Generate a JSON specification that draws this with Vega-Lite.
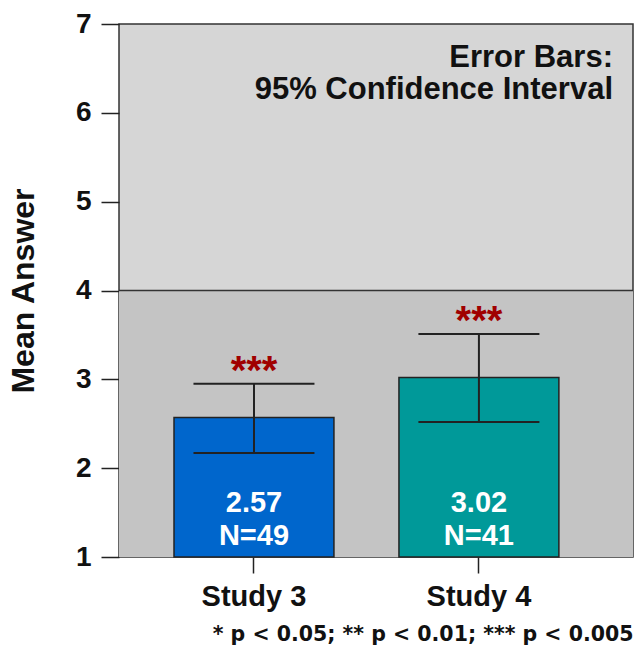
{
  "$schema": "https://vega.github.io/schema/vega-lite/v6.json",
  "width": 514,
  "height": 533,
  "autosize": {"type": "none"},
  "padding": {"left": 119, "top": 24, "right": 4, "bottom": 105},
  "background": "white",
  "config": {
    "font": "Liberation Sans",
    "view": {"stroke": "#333333", "strokeWidth": 1.5, "fill": "#d6d6d6"}
  },
  "title": {
    "text": ["Error Bars:", "95% Confidence Interval"],
    "orient": "top",
    "anchor": "end",
    "frame": "group",
    "align": "right",
    "font": "Liberation Sans",
    "fontSize": 31,
    "fontWeight": "bold",
    "color": "#111111",
    "lineHeight": 32,
    "offset": -96,
    "dx": -20
  },
  "data": {
    "values": [
      {"study": "Study 3", "mean": 2.57, "n": 49, "lo": 2.17, "hi": 2.95, "sig": "***"},
      {"study": "Study 4", "mean": 3.02, "n": 41, "lo": 2.52, "hi": 3.51, "sig": "***"}
    ]
  },
  "encoding": {
    "x": {
      "field": "study",
      "type": "nominal",
      "scale": {"paddingInner": 0.289, "paddingOuter": 0.287, "align": 0.426},
      "axis": {
        "title": "* p < 0.05; ** p < 0.01; *** p < 0.005",
        "titleAnchor": "end",
        "titleAlign": "right",
        "titleFont": "DejaVu Sans",
        "titleFontSize": 20.5,
        "titleFontWeight": "bold",
        "titleColor": "#111111",
        "titlePadding": 13,
        "labelAngle": 0,
        "labelFontSize": 29,
        "labelFontWeight": "bold",
        "labelColor": "#111111",
        "labelPadding": 9,
        "tickSize": 16,
        "tickColor": "#222222",
        "tickWidth": 1.5,
        "domain": false,
        "grid": false
      }
    }
  },
  "layer": [
    {
      "data": {"values": [{"lo": 1, "hi": 4}]},
      "mark": {"type": "rect", "fill": "#c4c4c4"},
      "encoding": {
        "x": null,
        "y": {
          "field": "lo",
          "type": "quantitative",
          "scale": {"domain": [1, 7], "nice": false, "zero": false},
          "axis": {
            "title": "Mean Answer",
            "titleFontSize": 32,
            "titleFontWeight": "bold",
            "titleColor": "#111111",
            "titlePadding": 35,
            "values": [1, 2, 3, 4, 5, 6, 7],
            "format": "d",
            "labelFontSize": 28,
            "labelFontWeight": "bold",
            "labelColor": "#111111",
            "labelPadding": 10,
            "tickSize": 18,
            "tickColor": "#222222",
            "tickWidth": 1.5,
            "domain": false,
            "grid": false
          }
        },
        "y2": {"field": "hi"}
      }
    },
    {
      "data": {"values": [{"v": 4}]},
      "mark": {"type": "rule", "color": "#333333", "strokeWidth": 1.5},
      "encoding": {"x": null, "y": {"field": "v", "type": "quantitative"}}
    },
    {
      "mark": {"type": "bar", "stroke": "#222222", "strokeWidth": 1.5},
      "encoding": {
        "y": {"field": "mean", "type": "quantitative"},
        "y2": {"datum": 1},
        "color": {
          "field": "study",
          "type": "nominal",
          "scale": {"domain": ["Study 3", "Study 4"], "range": ["#0066cc", "#009999"]},
          "legend": null
        }
      }
    },
    {
      "mark": {"type": "rule", "color": "#222222", "strokeWidth": 2},
      "encoding": {
        "y": {"field": "lo", "type": "quantitative"},
        "y2": {"field": "hi"}
      }
    },
    {
      "mark": {"type": "tick", "color": "#222222", "size": 121, "thickness": 2, "orient": "horizontal", "opacity": 1},
      "encoding": {"y": {"field": "lo", "type": "quantitative"}}
    },
    {
      "mark": {"type": "tick", "color": "#222222", "size": 121, "thickness": 2, "orient": "horizontal", "opacity": 1},
      "encoding": {"y": {"field": "hi", "type": "quantitative"}}
    },
    {
      "mark": {"type": "text", "color": "#a00000", "fontSize": 40, "fontWeight": "bold", "baseline": "middle", "dy": -12},
      "encoding": {
        "y": {"field": "hi", "type": "quantitative"},
        "text": {"field": "sig"}
      }
    },
    {
      "mark": {
        "type": "text",
        "color": "white",
        "fontSize": 29,
        "fontWeight": "bold",
        "baseline": "alphabetic",
        "dy": -45
      },
      "encoding": {
        "y": {"datum": 1, "type": "quantitative"},
        "text": {"field": "mean", "type": "quantitative", "format": ".2f"}
      }
    },
    {
      "mark": {
        "type": "text",
        "color": "white",
        "fontSize": 29,
        "fontWeight": "bold",
        "baseline": "alphabetic",
        "dy": -12,
        "text": {"expr": "'N=' + datum.n"}
      },
      "encoding": {
        "y": {"datum": 1, "type": "quantitative"}
      }
    }
  ]
}
